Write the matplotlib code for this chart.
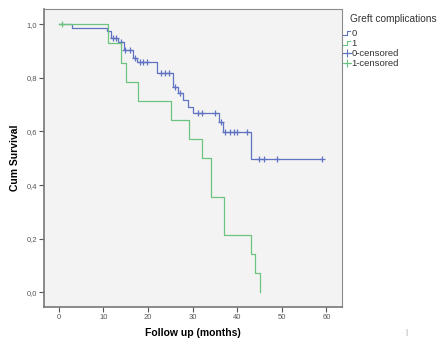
import numpy as np
import matplotlib
matplotlib.use("Agg")
import matplotlib.pyplot as plt
from matplotlib.lines import Line2D

plt.rcParams['font.family'] = ['Liberation Sans', 'DejaVu Sans']

# ---- data ----
blue_times = [0, 2.9, 10.9, 11.7, 13.4, 14.6, 16.6, 17.5, 22.0, 25.7, 26.8, 27.8, 28.9, 30.0, 36.0, 36.9, 43.0]
blue_surv = [1.0, 0.987, 0.975, 0.948, 0.935, 0.904, 0.873, 0.859, 0.817, 0.767, 0.742, 0.717, 0.692, 0.668, 0.634, 0.597, 0.497]
blue_end = 59.0
blue_censor = [12.1, 12.8, 13.9, 14.9, 16.0, 17.0, 18.3, 19.0, 19.9, 23.0, 23.9, 24.8,
               26.1, 27.2, 31.2, 32.1, 35.0, 36.3, 37.3, 38.3, 39.2, 40.0, 42.2,
               45.0, 46.0, 49.0, 59.0]

green_times = [0, 11.1, 14.0, 15.0, 17.8, 25.1, 29.1, 32.1, 34.1, 37.1, 43.0, 44.0, 45.1]
green_surv = [1.0, 0.929, 0.857, 0.786, 0.714, 0.643, 0.571, 0.5, 0.357, 0.214, 0.143, 0.071, 0.0]
green_censor = [0.8]

x_ticks = [0, 10, 20, 30, 40, 50, 60]
y_ticks = [0.0, 0.2, 0.4, 0.6, 0.8, 1.0]
y_tick_labels = ['0,0', '0,2', '0,4', '0,6', '0,8', '1,0']
legend_title = 'Greft complications'
legend_labels = ['0', '1', '0-censored', '1-censored']

BLUE = '#6073c3'
GREEN = '#6cc47e'

W, H = 439, 340
fig = plt.figure(figsize=(W / 100, H / 100), dpi=100)
ax = fig.add_axes([44 / W, 1 - 307 / H, (342 - 44) / W, (307 - 9) / H])
ax.set_facecolor('#f3f3f3')


def surv_at(times, surv, t):
    i = np.searchsorted(np.asarray(times), t, side='right') - 1
    return np.asarray(surv)[i]


# blue curve
ax.step(list(blue_times) + [blue_end], list(blue_surv) + [blue_surv[-1]], where='post',
        color=BLUE, lw=0.9)
ax.plot(blue_censor, [surv_at(blue_times, blue_surv, c) for c in blue_censor], ls='none',
        marker='+', ms=5, mew=0.9, color=BLUE)
# green curve
ax.step(green_times, green_surv, where='post', color=GREEN, lw=0.9)
ax.plot(green_censor, [surv_at(green_times, green_surv, c) for c in green_censor], ls='none',
        marker='+', ms=5, mew=0.9, color=GREEN)

ax.set_xlim(-3.3, 63.5)
ax.set_ylim(-0.055, 1.057)
ax.set_xticks(x_ticks)
ax.set_yticks(y_ticks)
ax.set_yticklabels(y_tick_labels)
ax.tick_params(axis='both', labelsize=5.5, colors='#555555', length=3.5, width=0.8, pad=1.5)
for s in ax.spines.values():
    s.set_color('#8a8a8a')
    s.set_linewidth(0.8)
ax.spines['left'].set_linewidth(1.2)
ax.spines['bottom'].set_linewidth(1.2)
ax.spines['left'].set_color('#777777')
ax.spines['bottom'].set_color('#777777')

ax.set_xlabel('Follow up (months)', fontsize=7.5, fontweight='bold', labelpad=5)
ax.set_ylabel('Cum Survival', fontsize=7.5, fontweight='bold', labelpad=5)

# legend (manual, figure pixel coordinates)
def fx(px):
    return px / W


def fy(py):
    return 1 - py / H


fig.text(fx(350), fy(18.5), legend_title, fontsize=7.3, color='#333333', va='center', ha='left')
rows = [33.3, 43.3, 53.3, 63.3]
for i, (lab, yy) in enumerate(zip(legend_labels, rows)):
    col = BLUE if i in (0, 2) else GREEN
    if i < 2:
        xs = [fx(343), fx(346.5), fx(346.5), fx(350)]
        ys = [fy(yy + 2), fy(yy + 2), fy(yy - 2), fy(yy - 2)]
        fig.add_artist(Line2D(xs, ys, color=col, lw=0.8, transform=fig.transFigure))
    else:
        fig.add_artist(Line2D([fx(343), fx(351)], [fy(yy), fy(yy)], color=col, lw=0.8,
                              transform=fig.transFigure))
        fig.add_artist(Line2D([fx(347)], [fy(yy)], color=col, marker='+', ms=5.5, mew=0.8,
                              transform=fig.transFigure))
    fig.text(fx(351.5), fy(yy), lab, fontsize=6.8, color='#333333', va='center', ha='left')

# small stray mark at the bottom right of the reference
fig.text(fx(406), fy(333), '|', fontsize=6, color='#999999', ha='center', va='center')

fig.savefig('out.png', dpi=100)
